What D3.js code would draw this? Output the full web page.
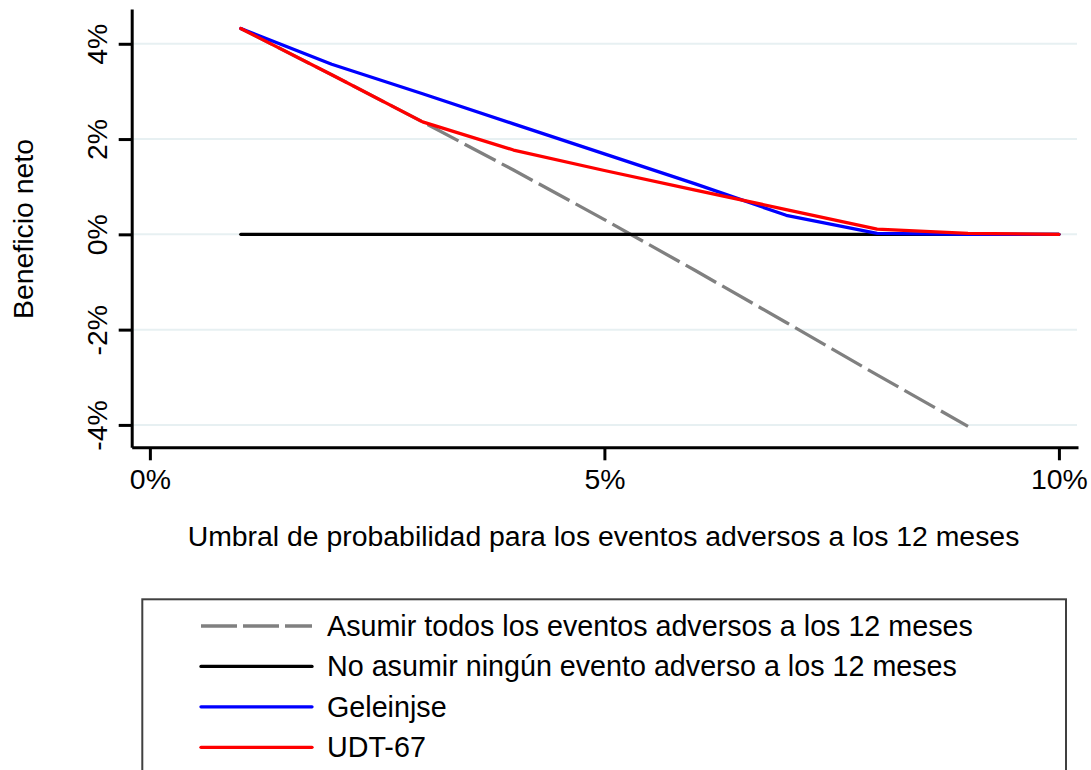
<!DOCTYPE html>
<html>
<head>
<meta charset="utf-8">
<script src="https://cdn.jsdelivr.net/npm/d3@7"></script>
<style>
  body { margin: 0; background: #fff; }
  svg { display: block; }
  text { font-family: "Liberation Sans", Arial, sans-serif; fill: #000; }
</style>
</head>
<body>
<svg id="chart" width="1091" height="770"></svg>
<script>
// Decision curve: net benefit (%) by probability threshold (%)
const thresholds = [1, 2, 3, 4, 5, 6, 7, 8, 9, 10];
const treatAll   = [4.32, 3.35, 2.36, 1.35, 0.31, -0.76, -1.85, -2.95, -4.03];
const treatNone  = [0, 0, 0, 0, 0, 0, 0, 0, 0, 0];
const geleinjse  = [4.32, 3.57, 2.95, 2.32, 1.69, 1.06, 0.40, 0.02, 0, 0];
const udt67      = [4.32, 3.35, 2.36, 1.77, 1.34, 0.93, 0.52, 0.11, 0.02, 0];

const xTicks = [0, 5, 10];
const yTicks = [-4, -2, 0, 2, 4];

const seriesNames = [
  "Asumir todos los eventos adversos a los 12 meses",
  "No asumir ningún evento adverso a los 12 meses",
  "Geleinjse",
  "UDT-67"
];
const seriesValues = [treatAll, treatNone, geleinjse, udt67];
const seriesColors = ["#808080", "#000000", "#0000ff", "#ff0000"];
const seriesDash = ["35,7", null, null, null];

const xTitle = "Umbral de probabilidad para los eventos adversos a los 12 meses";
const yTitle = "Beneficio neto";

const svg = d3.select("#chart");
const FS = 28.4;

const x = d3.scaleLinear().domain([-0.2, 10.21]).range([131.7, 1078]);
const y = d3.scaleLinear().domain([-4.47, 4.73]).range([447.3, 9]);

// horizontal gridlines
svg.append("g")
  .selectAll("line")
  .data(yTicks)
  .join("line")
  .attr("x1", x(-0.2) + 1)
  .attr("x2", x(10.21) - 1)
  .attr("y1", d => y(d))
  .attr("y2", d => y(d))
  .attr("stroke", "#e7f0f2")
  .attr("stroke-width", 2);

// series lines
const line = d3.line()
  .x((d, i) => x(thresholds[i]))
  .y(d => y(d));

seriesValues.forEach((vals, k) => {
  const p = svg.append("path")
    .datum(vals)
    .attr("d", line)
    .attr("fill", "none")
    .attr("stroke", seriesColors[k])
    .attr("stroke-width", 3.3)
    .attr("stroke-linejoin", "round");
  if (seriesDash[k]) p.attr("stroke-dasharray", seriesDash[k]);
  else p.attr("stroke-linecap", "round");
});

// y axis
const yAxis = svg.append("g")
  .attr("transform", `translate(${x(-0.2)},0)`)
  .call(d3.axisLeft(y).tickValues(yTicks).tickSize(13).tickSizeOuter(0)
    .tickFormat(d => d + "%"));
yAxis.select(".domain").attr("stroke-width", 3).attr("stroke", "#000");
yAxis.selectAll(".tick line").attr("stroke-width", 3).attr("stroke", "#000");
yAxis.selectAll(".tick text")
  .attr("x", null).attr("dy", null)
  .attr("transform", "translate(-25,0) rotate(-90)")
  .attr("text-anchor", "middle")
  .style("font-size", FS + "px")
  .style("font-family", "\"Liberation Sans\", Arial, sans-serif")
  .attr("fill", "#000");

// x axis
const xAxis = svg.append("g")
  .attr("transform", `translate(0,${y(-4.47)})`)
  .call(d3.axisBottom(x).tickValues(xTicks).tickSize(13).tickSizeOuter(0)
    .tickFormat(d => d + "%"));
xAxis.select(".domain").attr("stroke-width", 3).attr("stroke", "#000");
xAxis.selectAll(".tick line").attr("stroke-width", 3).attr("stroke", "#000");
xAxis.selectAll(".tick text")
  .attr("y", 42).attr("dy", null)
  .style("font-size", FS + "px")
  .style("font-family", "\"Liberation Sans\", Arial, sans-serif")
  .attr("fill", "#000");

// axis titles
svg.append("text")
  .attr("transform", "translate(33,229) rotate(-90)")
  .attr("text-anchor", "middle")
  .style("font-size", FS + "px")
  .text(yTitle);

svg.append("text")
  .attr("x", 603.5)
  .attr("y", 546)
  .attr("text-anchor", "middle")
  .style("font-size", FS + "px")
  .text(xTitle);

// legend
const legend = svg.append("g");
legend.append("rect")
  .attr("x", 142.3).attr("y", 599.3)
  .attr("width", 923.7).attr("height", 220)
  .attr("fill", "#fff")
  .attr("stroke", "#404040")
  .attr("stroke-width", 2);

const rowY = d3.scaleLinear().domain([0, 3]).range([626, 747.3]);
seriesNames.forEach((name, k) => {
  const g = legend.append("g").attr("transform", `translate(0,${rowY(k)})`);
  const l = g.append("line")
    .attr("x1", 201).attr("x2", 312)
    .attr("y1", 0).attr("y2", 0)
    .attr("stroke", seriesColors[k])
    .attr("stroke-width", 3.3);
  if (seriesDash[k]) l.attr("stroke-dasharray", "36,6");
  else l.attr("stroke-linecap", "round");
  g.append("text")
    .attr("x", 327)
    .attr("y", 10)
    .style("font-size", (FS + 0.3) + "px")
    .text(name);
});
</script>
</body>
</html>
